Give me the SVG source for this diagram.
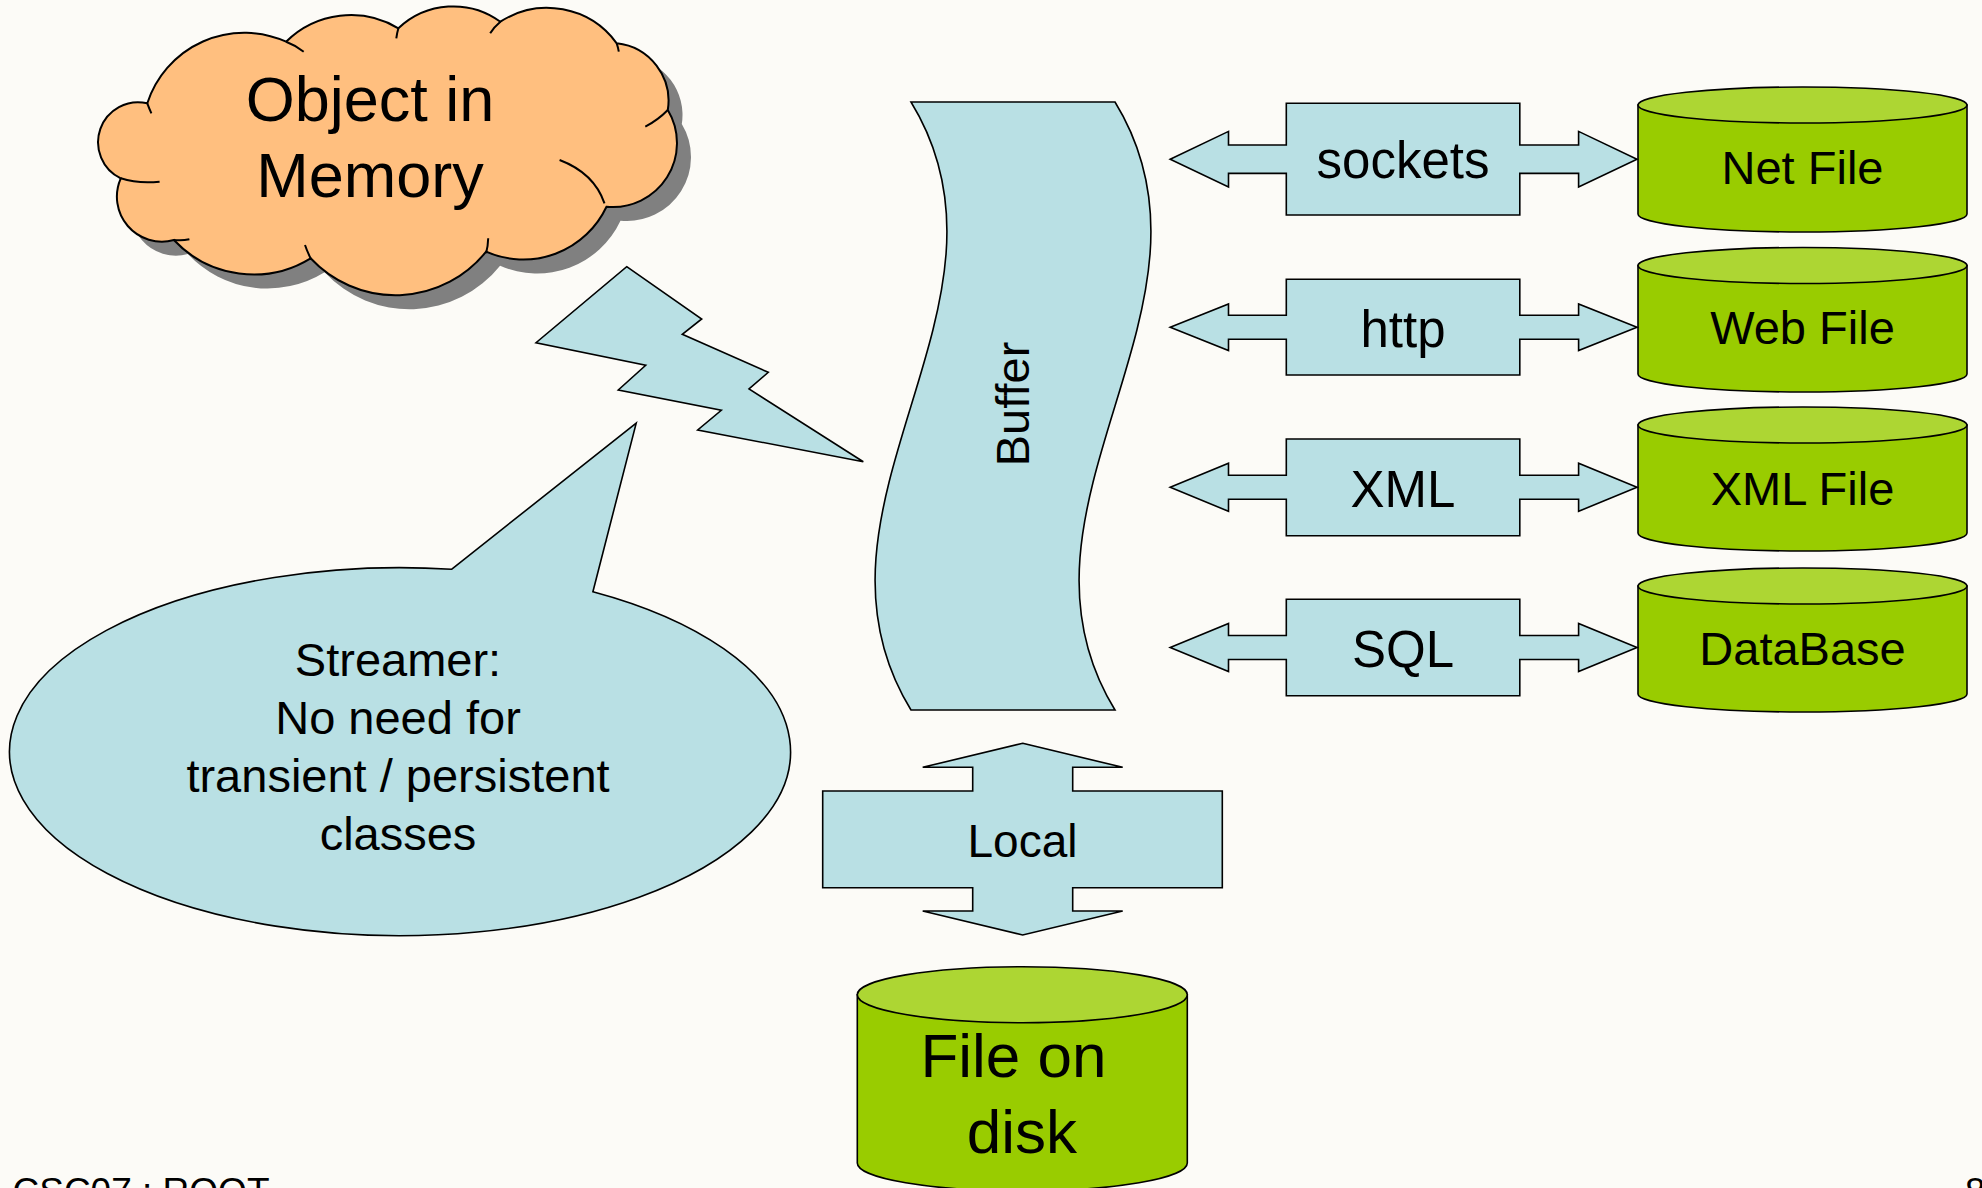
<svg xmlns="http://www.w3.org/2000/svg" width="1982" height="1188" viewBox="0 0 1982 1188">
  <defs>
    <style>
      .txt { font-family: "Liberation Sans", Arial, sans-serif; fill: #000; }
      .mid { text-anchor: middle; }
      .shape { fill: #B9E0E4; stroke: #000; stroke-width: 1.6; stroke-linejoin: miter; }
      .cyl-body { fill: #99CC00; stroke: #000; stroke-width: 1.6; }
      .cyl-top { fill: #ADD633; stroke: #000; stroke-width: 1.6; }
      .cloud { fill: #FFBF7F; stroke: #000; stroke-width: 2; }
      .cloud-shadow { fill: #808080; }
      .inner { fill: none; stroke: #000; stroke-width: 2; }
    </style>
  </defs>

  <!-- page -->
  <rect x="0" y="0" width="1982" height="1188" fill="#FCFBF7"/>

  <!-- cloud: Object in Memory -->
  <g id="object-in-memory">
    <path class="cloud-shadow" transform="translate(14,14)" d="M147.3,103.3 A102,102 0 0 1 286.1,41.7 A92,92 0 0 1 398.4,28.3 A80,80 0 0 1 500.4,21.7 A86,86 0 0 1 616.7,43.3 A58,58 0 0 1 667.8,110 A64,64 0 0 1 606.5,206.7 A92,92 0 0 1 486.1,251.7 A116,116 0 0 1 310.6,258.3 A109,109 0 0 1 173.9,240 A45,45 0 0 1 120.8,178.3 A40,40 0 0 1 147.3,103.3 Z"/>
    <path class="cloud" d="M147.3,103.3 A102,102 0 0 1 286.1,41.7 A92,92 0 0 1 398.4,28.3 A80,80 0 0 1 500.4,21.7 A86,86 0 0 1 616.7,43.3 A58,58 0 0 1 667.8,110 A64,64 0 0 1 606.5,206.7 A92,92 0 0 1 486.1,251.7 A116,116 0 0 1 310.6,258.3 A109,109 0 0 1 173.9,240 A45,45 0 0 1 120.8,178.3 A40,40 0 0 1 147.3,103.3 Z"/>
    <path class="inner" d="M147.3,103.3 Q149,108 151.4,113.3 M286.1,41.7 Q295,45 303.7,51.7 M398.4,28.3 Q397,33 396.3,38.3 M500.4,21.7 Q494,27 490.2,33.3 M616.7,43.3 Q618,47 618.8,51.7 M667.8,110 Q658,120 645.3,126.7 M559.6,160 Q594,173 604.5,203.3 M488.2,238.3 Q488,246 486.1,253.3 M310.6,258.3 Q307,251 305,245 M173.9,240 Q182,241 189.4,239.3 M120.8,178.3 Q138,184 159.6,181.7"/>
    <text class="txt mid" x="370" y="121" font-size="63">Object in</text>
    <text class="txt mid" x="370" y="196.5" font-size="63">Memory</text>
  </g>

  <!-- streamer note -->
  <g id="streamer-note">
    <path class="shape" d="M451.5,569.3 L636.2,423.1 L592.9,591.7 A390.5,184 0 1 1 451.5,569.3 Z"/>
    <text class="txt mid" font-size="47" x="398" y="675.5">Streamer:</text>
    <text class="txt mid" font-size="47" x="398" y="733.5">No need for</text>
    <text class="txt mid" font-size="47" x="398" y="791.5">transient / persistent</text>
    <text class="txt mid" font-size="47" x="398" y="849.5">classes</text>
  </g>

  <!-- buffer -->
  <g id="buffer">
    <path class="shape" d="M911,102 L1115,102 C1239.6,304.7 990.4,507.3 1115,710 L911,710 C786.4,507.3 1035.6,304.7 911,102 Z"/>
    <text class="txt mid" font-size="47" transform="translate(1029,404) rotate(-90)">Buffer</text>
  </g>

  <!-- storage back-ends -->
  <g id="net-file">
    <path class="cyl-body" d="M1638,105 V214 A164.5,18 0 0 0 1967,214 V105 Z"/>
    <ellipse class="cyl-top" cx="1802.5" cy="105" rx="164.5" ry="18"/>
    <text class="txt mid" font-size="47" x="1802.5" y="184">Net File</text>
  </g>
  <g id="web-file">
    <path class="cyl-body" d="M1638,265.5 V374 A164.5,18 0 0 0 1967,374 V265.5 Z"/>
    <ellipse class="cyl-top" cx="1802.5" cy="265.5" rx="164.5" ry="18"/>
    <text class="txt mid" font-size="47" x="1802.5" y="344">Web File</text>
  </g>
  <g id="xml-file">
    <path class="cyl-body" d="M1638,425 V533 A164.5,18 0 0 0 1967,533 V425 Z"/>
    <ellipse class="cyl-top" cx="1802.5" cy="425" rx="164.5" ry="18"/>
    <text class="txt mid" font-size="47" x="1802.5" y="505">XML File</text>
  </g>
  <g id="database">
    <path class="cyl-body" d="M1638,586 V694 A164.5,18 0 0 0 1967,694 V586 Z"/>
    <ellipse class="cyl-top" cx="1802.5" cy="586" rx="164.5" ry="18"/>
    <text class="txt mid" font-size="47" x="1802.5" y="665">DataBase</text>
  </g>
  <g id="file-on-disk">
    <path class="cyl-body" d="M857.3,994.7 V1163 A165,28 0 0 0 1187.3,1163 V994.7 Z"/>
    <ellipse class="cyl-top" cx="1022.3" cy="994.7" rx="165" ry="28"/>
    <text class="txt mid" font-size="62" x="1013.5" y="1077.3">File on</text>
    <text class="txt mid" font-size="62" x="1022" y="1153.3">disk</text>
  </g>

  <!-- connectors: streaming bolt and transport arrows -->
  <g id="connectors">
    <path id="bolt" class="shape" stroke-width="2" d="M626.7,266.7 L701.7,319 L682.3,334.3 L768.3,372.3 L749,389 L863.3,461.7 L697.7,430 L721.3,410.3 L618.3,390 L645.7,365.3 L536,342.7 Z"/>

    <g id="arrow-sockets">
      <path class="shape" d="M1170.2,159.2 L1228.5,131.4 L1228.5,145 L1286.3,145 L1286.3,103.3 L1519.8,103.3 L1519.8,145 L1578.6,145 L1578.6,131.4 L1637,159.2 L1578.6,187 L1578.6,173.4 L1519.8,173.4 L1519.8,215 L1286.3,215 L1286.3,173.4 L1228.5,173.4 L1228.5,187 Z"/>
      <text class="txt mid" font-size="51" x="1403" y="178.3">sockets</text>
    </g>
    <g id="arrow-http">
      <path class="shape" d="M1170.2,327.2 L1228.5,303.9 L1228.5,315.2 L1286.3,315.2 L1286.3,279.3 L1519.8,279.3 L1519.8,315.2 L1578.6,315.2 L1578.6,303.9 L1637,327.2 L1578.6,350.5 L1578.6,339.2 L1519.8,339.2 L1519.8,375 L1286.3,375 L1286.3,339.2 L1228.5,339.2 L1228.5,350.5 Z"/>
      <text class="txt mid" font-size="51" x="1403" y="346.5">http</text>
    </g>
    <g id="arrow-xml">
      <path class="shape" d="M1170.2,487.3 L1228.5,463.3 L1228.5,475.3 L1286.3,475.3 L1286.3,439 L1519.8,439 L1519.8,475.3 L1578.6,475.3 L1578.6,463.3 L1637,487.3 L1578.6,511.3 L1578.6,499.3 L1519.8,499.3 L1519.8,535.7 L1286.3,535.7 L1286.3,499.3 L1228.5,499.3 L1228.5,511.3 Z"/>
      <text class="txt mid" font-size="51" x="1403" y="506.5">XML</text>
    </g>
    <g id="arrow-sql">
      <path class="shape" d="M1170.2,647.5 L1228.5,623.5 L1228.5,635.5 L1286.3,635.5 L1286.3,599.3 L1519.8,599.3 L1519.8,635.5 L1578.6,635.5 L1578.6,623.5 L1637,647.5 L1578.6,671.5 L1578.6,659.5 L1519.8,659.5 L1519.8,695.7 L1286.3,695.7 L1286.3,659.5 L1228.5,659.5 L1228.5,671.5 Z"/>
      <text class="txt mid" font-size="51" x="1403" y="666.5">SQL</text>
    </g>
    <g id="arrow-local">
      <path class="shape" d="M1022.7,743.3 L1122.7,767.3 L1072.7,767.3 L1072.7,791 L1222.3,791 L1222.3,887.7 L1072.7,887.7 L1072.7,911 L1122.7,911 L1022.7,935 L922.7,911 L972.7,911 L972.7,887.7 L822.7,887.7 L822.7,791 L972.7,791 L972.7,767.3 L922.7,767.3 Z"/>
      <text class="txt mid" font-size="46" x="1022.5" y="856.7">Local</text>
    </g>
  </g>

  <!-- footer -->
  <text class="txt" font-size="37" x="12.5" y="1204">CSC07 : ROOT</text>
  <text class="txt" font-size="37" x="1965" y="1204">8</text>
</svg>
